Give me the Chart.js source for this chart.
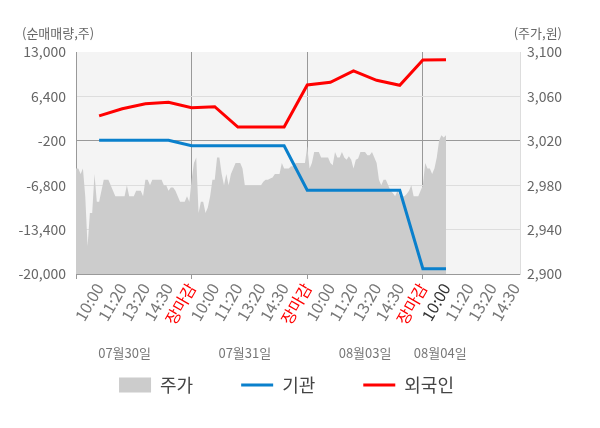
<!DOCTYPE html>
<html>
<head>
<meta charset="utf-8">
<script src="https://cdn.jsdelivr.net/npm/chart.js@4/dist/chart.umd.min.js"></script>
<style>
  html, body { margin: 0; padding: 0; background: #fff; }
</style>
</head>
<body>
<canvas id="myChart" width="600" height="428"></canvas>
<script>
// tick labels for each trading day (slots 1..5 of a day)
const tickLabels = ["10:00", "11:20", "13:20", "14:30", "장마감"];
const tickSlots = [0, 1, 2, 3, 4, 5, 6, 7, 8, 9, 10, 11, 12, 13, 14, 15, 16, 17, 18, 19];
const currentSlot = 16;

// day names under the axis and the slot they sit at
const dayLabels = ["07월30일", "07월31일", "08월03일", "08월04일"];
const dayLabelAt = [2.1, 7.3, 12.5, 15.75];

// net buying (shares), one value per slot 1..16
const orgValues = [-130, -130, -130, -130, -930, -930, -930, -930, -930,
  -7560, -7560, -7560, -7560, -7560, -19210, -19210];
const foreignValues = [3500, 4570, 5320, 5520, 4720, 4870, 1850, 1850, 1850,
  8100, 8500, 10180, 8790, 8050, 11810, 11850];

// share price (won), sampled every 0.1 slot from slot 0 to 16
const priceStep = 0.1;
const priceValues = [
  2995, 2995, 2990, 2995, 2970, 2925, 2955, 2955, 2990, 2965,
  2965, 2975, 2985, 2985, 2985, 2980, 2975, 2970, 2970, 2970,
  2970, 2970, 2980, 2970, 2970, 2970, 2975, 2975, 2975, 2970,
  2985, 2985, 2980, 2985, 2985, 2985, 2985, 2985, 2980, 2980,
  2975, 2978, 2978, 2975, 2970, 2965, 2965, 2965, 2970, 2965,
  2985, 3000, 3005, 2955, 2965, 2965, 2955, 2960, 2970, 2985,
  2985, 3005, 3005, 2990, 2980, 2990, 2980, 2990, 2995, 3000,
  3000, 3000, 2995, 2980, 2980, 2980, 2980, 2980, 2980, 2980,
  2980, 2983, 2985, 2985, 2986, 2987, 2990, 2990, 2990, 3000,
  2995, 2995, 2995, 2997, 2997, 3000, 3000, 3000, 3000, 3000,
  3015, 2995, 3000, 3010, 3010, 3010, 3005, 3005, 3005, 3005,
  3000, 2998, 3010, 3005, 3005, 3010, 3005, 3003, 3006, 3003,
  2995, 3003, 3004, 3010, 3010, 3010, 3007, 3007, 3010, 3005,
  3000, 2985, 2980, 2985, 2985, 2980, 2975, 2973, 2970, 2975,
  2970, 2970, 2970, 2972, 2975, 2980, 2970, 2970, 2970, 2975,
  2980, 3000, 2995, 2995, 2990, 2995, 3005, 3020, 3025, 3023,
  3025
];

Chart.defaults.font.family = "'Noto Sans CJK KR', 'Noto Sans', sans-serif";

// background of the plot, axis captions and day names
const extras = {
  id: "extras",
  beforeDraw(chart) {
    const { ctx, chartArea: a } = chart;
    ctx.save();
    ctx.fillStyle = "#f4f4f4";
    ctx.fillRect(a.left, a.top, a.right - a.left, a.bottom - a.top);
    ctx.restore();
  },
  afterDraw(chart) {
    const { ctx } = chart;
    const x = chart.scales.x;
    ctx.save();
    ctx.font = "13px 'Noto Sans CJK KR'";
    ctx.fillStyle = "#666";
    ctx.textBaseline = "middle";
    ctx.textAlign = "left";
    ctx.fillText("(순매매량,주)", 22, 33);
    ctx.textAlign = "right";
    ctx.fillText("(주가,원)", 562, 33);
    ctx.textAlign = "center";
    ctx.fillStyle = "#777";
    dayLabels.forEach((t, i) => {
      ctx.fillText(t, x.getPixelForValue(dayLabelAt[i]), 353);
    });
    ctx.restore();
  }
};

const ctx = document.getElementById("myChart");
const chart = new Chart(ctx, {
  type: "line",
  data: {
    datasets: [
      {
        label: "주가",
        data: priceValues.map((v, i) => ({ x: i * priceStep, y: v })),
        yAxisID: "y1",
        backgroundColor: "#cccccc",
        borderColor: "#cccccc",
        borderWidth: 0,
        fill: "start",
        pointRadius: 0,
        pointHoverRadius: 0,
        pointBorderWidth: 0,
        pointStyle: "rect",
        order: 2
      },
      {
        label: "기관",
        data: orgValues.map((v, i) => ({ x: i + 1, y: v })),
        yAxisID: "y",
        borderColor: "#0a80cc",
        backgroundColor: "#0a80cc",
        borderWidth: 3,
        pointRadius: 0,
        pointHoverRadius: 0,
        pointBorderWidth: 3,
        pointStyle: "line",
        fill: false,
        order: 1
      },
      {
        label: "외국인",
        data: foreignValues.map((v, i) => ({ x: i + 1, y: v })),
        yAxisID: "y",
        borderColor: "#ff0000",
        backgroundColor: "#ff0000",
        borderWidth: 3,
        pointRadius: 0,
        pointHoverRadius: 0,
        pointBorderWidth: 3,
        pointStyle: "line",
        fill: false,
        order: 0
      }
    ]
  },
  options: {
    responsive: false,
    animation: false,
    layout: { padding: { top: 52, bottom: 24, left: 0, right: 27 } },
    scales: {
      x: {
        type: "linear",
        min: 0,
        max: 19.2,
        afterBuildTicks: (ax) => { ax.ticks = tickSlots.map(v => ({ value: v })); },
        afterFit: (ax) => { ax.height = 54; },
        border: { color: "#999" },
        grid: {
          color: c => (c.tick && c.tick.value % 5 === 0 ? "#999" : "rgba(0,0,0,0)"),
          tickColor: c => (c.tick && c.tick.value % 5 === 0 ? "#999" : "rgba(0,0,0,0)"),
          tickLength: 5
        },
        ticks: {
          autoSkip: false,
          maxRotation: 60,
          minRotation: 60,
          padding: 1,
          font: { size: 16 },
          color: c => {
            const v = c.tick.value;
            if (v > 0 && (v - 1) % 5 === 4) return "#ff0000";
            if (v === currentSlot) return "#333";
            return "#777";
          },
          callback: v => (v === 0 ? "" : tickLabels[(v - 1) % 5])
        }
      },
      y: {
        position: "left",
        min: -20000,
        max: 13000,
        afterFit: (ax) => { ax.width = 76; },
        border: { color: "#999" },
        grid: {
          drawTicks: false,
          color: c => {
            if (c.tick.value === -200) return "#999";
            if (c.tick.value === 13000) return "rgba(0,0,0,0)";
            return "#ddd";
          }
        },
        ticks: {
          stepSize: 6600,
          padding: 10,
          color: "#666",
          font: { size: 14 },
          callback: v => v.toLocaleString("en-US")
        }
      },
      y1: {
        position: "right",
        min: 2900,
        max: 3100,
        afterFit: (ax) => { ax.width = 53; },
        border: { color: "#ddd" },
        grid: { display: false, drawTicks: false },
        ticks: {
          stepSize: 40,
          padding: 7,
          color: "#666",
          font: { size: 14 },
          callback: v => v.toLocaleString("en-US")
        }
      }
    },
    plugins: {
      tooltip: { enabled: false },
      legend: {
        position: "bottom",
        labels: {
          usePointStyle: true,
          pointStyleWidth: 32,
          boxHeight: 15,
          padding: 48,
          color: "#444",
          font: { size: 18 },
          sort: (a, b) => a.datasetIndex - b.datasetIndex
        }
      }
    }
  },
  plugins: [extras]
});
</script>
</body>
</html>
